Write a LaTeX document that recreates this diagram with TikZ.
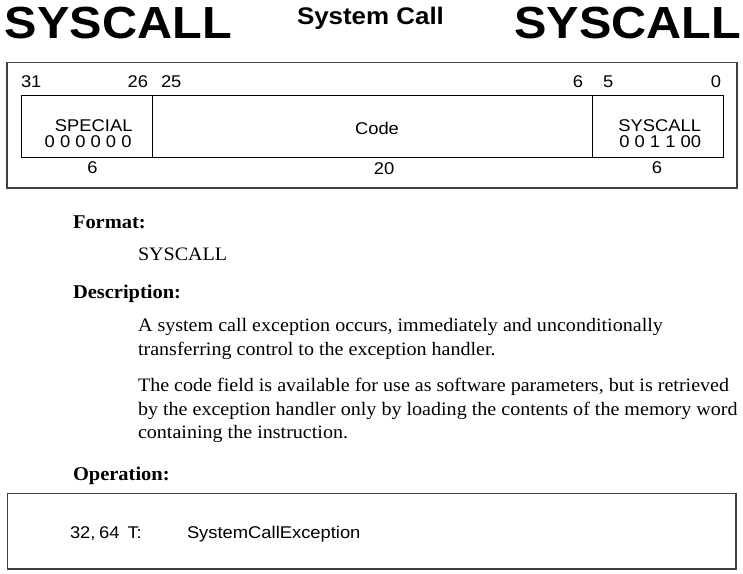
\documentclass[tikz,border=0pt]{standalone}
\usepackage{fontspec}
\newfontfamily\hv[FakeStretch=1.08]{Liberation Sans}
\newfontfamily\pal[FakeStretch=1.05]{Liberation Serif}
\newfontfamily\palb[FakeStretch=1.056]{Liberation Serif}
\begin{document}
\begin{tikzpicture}[x=1pt,y=-1pt,
  txt/.style={inner sep=0pt,outer sep=0pt},
  big/.style={txt,font=\hv\bfseries\fontsize{45}{50}\selectfont},
  ttl/.style={txt,font=\hv\bfseries\fontsize{24}{26}\selectfont},
  sm/.style={txt,font=\hv\fontsize{17}{19}\selectfont},
  hd/.style={txt,font=\pal\bfseries\fontsize{19.5}{23}\selectfont},
  bd/.style={txt,font=\palb\fontsize{19}{23}\selectfont},
  outerbox/.style={draw=black!75,line width=1.4pt},
  fieldbox/.style={draw=black,line width=1pt}]
\useasboundingbox (0,0) rectangle (743,573);
% title
\node[big,anchor=base west] (tl) at (5,38) {SYSCALL};
\node[ttl,anchor=base west] (tc) at (297,24.5) {System Call};
\node[big,anchor=base east] (tr) at (741,38) {SYSCALL};
% instruction format box
\draw[outerbox] (7,62.5) rectangle (737,188);
\draw[fieldbox] (21.5,95.5) rectangle (723,157);
\draw[fieldbox] (152.7,95.5) -- (152.7,157);
\draw[fieldbox] (592,95.5) -- (592,157);
\node[sm,anchor=base west] (b31) at (21,87) {31};
\node[sm,anchor=base east] (b26) at (148,87) {26};
\node[sm,anchor=base west] (b25) at (161,87) {25};
\node[sm,anchor=base east] (b6) at (583,87) {6};
\node[sm,anchor=base west] (b5) at (603,87) {5};
\node[sm,anchor=base east] (b0) at (721,87) {0};
\node[sm,anchor=base east] (sp) at (132.5,131) {SPECIAL};
\node[sm,anchor=base east] (spc) at (131.5,147.5) {0 0 0 0 0 0};
\node[sm,anchor=base] (code) at (377,134.5) {Code};
\node[sm,anchor=base east] (sy) at (701,131) {SYSCALL};
\node[sm,anchor=base east] (syc) at (701,147.5) {0 0 1 1 00};
\node[sm,anchor=base] (w1) at (92.5,173.5) {6};
\node[sm,anchor=base] (w2) at (384,174.5) {20};
\node[sm,anchor=base] (w3) at (657,173.5) {6};
% text
\node[hd,anchor=base west] (fmt) at (73,228) {Format:};
\node[bd,anchor=base west] (fmtt) at (138,260) {SYSCALL};
\node[hd,anchor=base west] (dsc) at (73,298) {Description:};
\node[bd,anchor=base west] (p1a) at (138,331) {A system call exception occurs, immediately and unconditionally};
\node[bd,anchor=base west] (p1b) at (138,355) {transferring control to the exception handler.};
\node[bd,anchor=base west] (p2a) at (138,391.5) {The code field is available for use as software parameters, but is retrieved};
\node[bd,anchor=base west] (p2b) at (138,415) {by the exception handler only by loading the contents of the memory word};
\node[bd,anchor=base west] (p2c) at (138,438) {containing the instruction.};
\node[hd,anchor=base west] (op) at (73,480) {Operation:};
% operation box
\draw[outerbox] (7.5,493.5) rectangle (736,569);
\node[sm,anchor=base west] (o1) at (70,538) {32,\kern3.6pt64};
\node[sm,anchor=base west] (o2) at (127.5,538) {T:};
\node[sm,anchor=base west] (o3) at (187,538) {SystemCallException};
\end{tikzpicture}
\end{document}
